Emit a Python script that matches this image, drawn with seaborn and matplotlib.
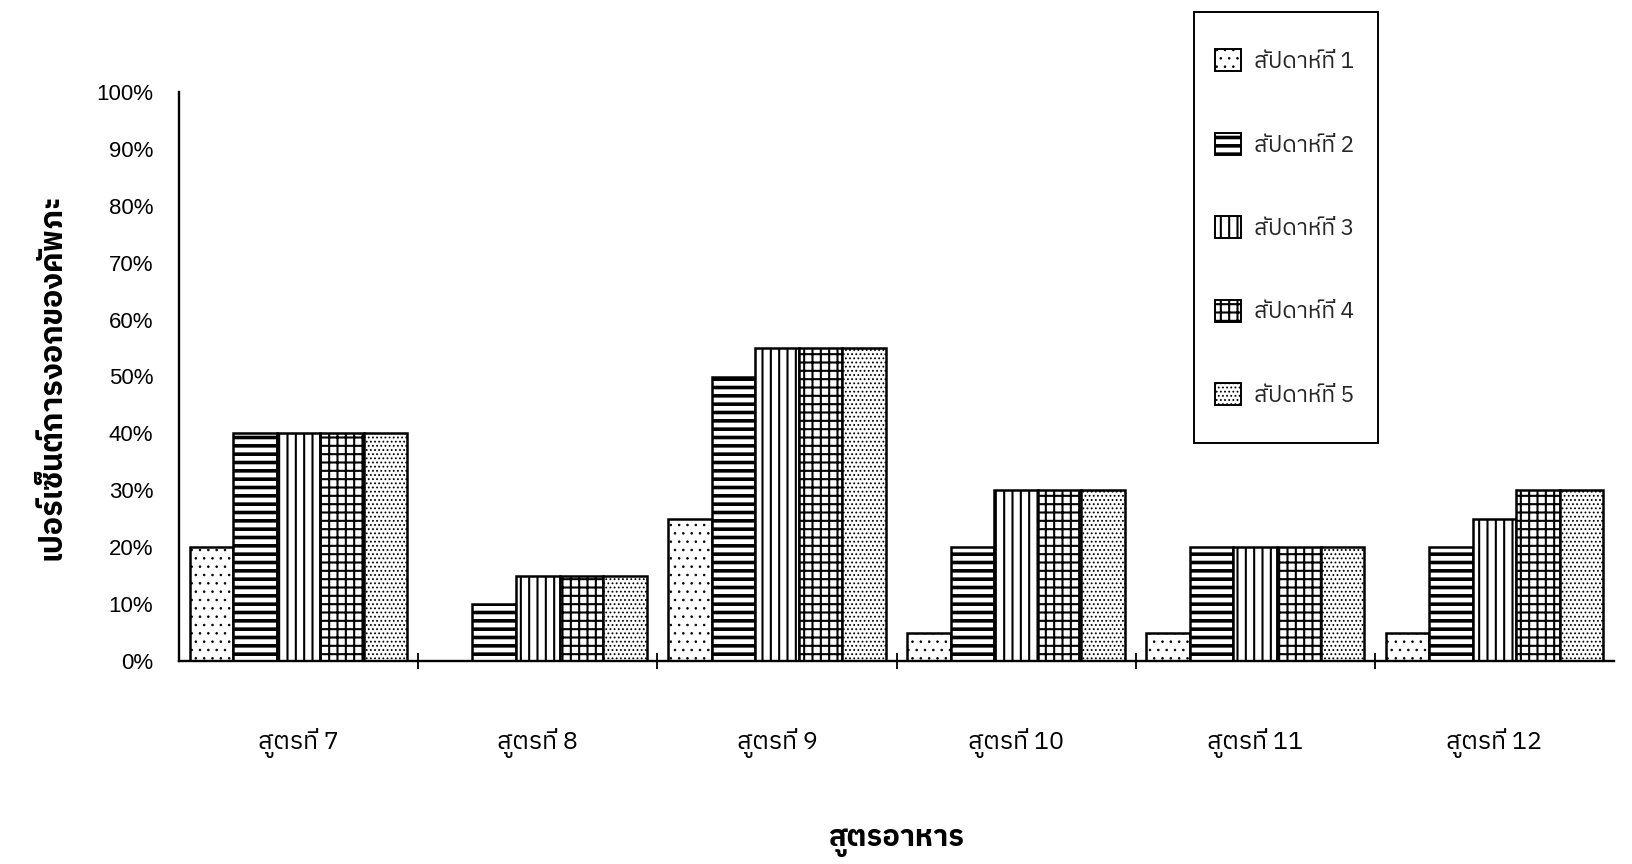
import matplotlib
matplotlib.use("Agg")
import matplotlib.pyplot as plt
import numpy as np
import pandas as pd
import seaborn as sns
from matplotlib import font_manager
from matplotlib.ft2font import FT2Font
from matplotlib.patches import Patch, Rectangle
from matplotlib.ticker import FixedLocator, MultipleLocator, PercentFormatter

# ---- data -----------------------------------------------------------------
formulas = ["สูตรที่ 7", "สูตรที่ 8", "สูตรที่ 9", "สูตรที่ 10", "สูตรที่ 11", "สูตรที่ 12"]
weeks = ["สัปดาห์ที่ 1", "สัปดาห์ที่ 2", "สัปดาห์ที่ 3", "สัปดาห์ที่ 4", "สัปดาห์ที่ 5"]
week1 = [20, 0, 25, 5, 5, 5]
week2 = [40, 10, 50, 20, 20, 20]
week3 = [40, 15, 55, 30, 20, 25]
week4 = [40, 15, 55, 30, 20, 30]
week5 = [40, 15, 55, 30, 20, 30]
y_label = "เปอร์เซ็นต์การงอกของคัพภะ"
x_label = "สูตรอาหาร"

series = [week1, week2, week3, week4, week5]
df = pd.DataFrame(
    [(f, w, v) for w, vals in zip(weeks, series) for f, v in zip(formulas, vals)],
    columns=["formula", "week", "pct"],
)

# ---- fonts: pick an installed face that covers Thai ------------------------
def thai_family():
    preferred = []
    others = []
    seen = set()
    for entry in font_manager.fontManager.ttflist:
        if entry.name in seen:
            continue
        try:
            cmap = FT2Font(entry.fname).get_charmap()
        except Exception:
            continue
        if 0x0E2A in cmap and 0x0E39 in cmap:
            seen.add(entry.name)
            if "Thai" in entry.name and "Looped" not in entry.name and "Serif" not in entry.name:
                preferred.append(entry.name)
            else:
                others.append(entry.name)
    found = preferred + others
    return found[0] if found else None

sns.set_theme(style="white")
thai = thai_family()
families = ([thai] if thai else []) + ["Liberation Sans", "DejaVu Sans"]
plt.rcParams["font.family"] = families
plt.rcParams["hatch.color"] = "black"

# ---- figure ---------------------------------------------------------------
W, H = 1632, 864
fig = plt.figure(figsize=(W / 100, H / 100), dpi=100)
fig.patch.set_facecolor("white")
ax = fig.add_axes([179 / W, 1 - 661 / H, (1614 - 179) / W, (661 - 92) / H])
ax.set_facecolor("white")

sns.barplot(
    data=df, x="formula", y="pct", hue="week",
    order=formulas, hue_order=weeks,
    palette=["white"] * len(weeks), saturation=1,
    width=0.91, gap=0, dodge=True, errorbar=None,
    edgecolor="black", linewidth=1.8, legend=False, ax=ax,
)

hatches = ["..", "--", "||", "++", "...."]
hatch_widths = [0.6, 2.6, 1.5, 1.5, 0.8]
for container, h, hw in zip(ax.containers, hatches, hatch_widths):
    for bar in container:
        bar.set_hatch(h)
        if hasattr(bar, "set_hatch_linewidth"):
            bar.set_hatch_linewidth(hw)

# ---- axes styling ---------------------------------------------------------
ax.set_xlim(-0.5, len(formulas) - 0.5)
ax.set_ylim(0, 100)
ax.yaxis.set_major_locator(MultipleLocator(10))
ax.yaxis.set_major_formatter(PercentFormatter(xmax=100, decimals=0))
for side in ("top", "right"):
    ax.spines[side].set_visible(False)
for side in ("left", "bottom"):
    ax.spines[side].set_color("black")
    ax.spines[side].set_linewidth(1.7)

ax.tick_params(axis="y", which="major", direction="inout", length=11, width=1.3,
               color="black", pad=13, labelsize=16, labelcolor="black")
for t in ax.get_yticklabels():
    t.set_fontfamily(["Liberation Sans", "DejaVu Sans"])
ax.xaxis.set_minor_locator(FixedLocator(np.arange(0.5, len(formulas) - 1, 1.0)))
ax.tick_params(axis="x", which="minor", direction="inout", length=11, width=1.3,
               color="black", bottom=True)
ax.tick_params(axis="x", which="major", length=0, pad=48, labelsize=18,
               labelcolor="black")
ax.grid(False)

ax.set_xlabel(x_label, fontsize=21, fontweight="bold", color="black")
ax.set_ylabel(y_label, fontsize=22, fontweight="bold", color="black")
ax.xaxis.set_label_coords(0.5, (661 - 828) / (661 - 92))
ax.yaxis.set_label_coords((52 - 179) / (1614 - 179), 0.5)
ax.yaxis.label.set_verticalalignment("center")

# ---- legend in a tall box at the top right ---------------------------------
handles = []
for h in hatches:
    handles.append(Patch(facecolor="white", edgecolor="black", hatch=h, linewidth=1.4))
leg = fig.legend(
    handles, weeks, loc="upper left",
    bbox_to_anchor=(1204 / W, 1 - 38 / H), bbox_transform=fig.transFigure,
    frameon=False, fontsize=16.5, borderpad=0, handlelength=1.1, handleheight=1.1,
    handletextpad=0.6, labelspacing=2.6,
)
for lh, hw in zip(leg.legend_handles, hatch_widths):
    if hasattr(lh, "set_hatch_linewidth"):
        lh.set_hatch_linewidth(hw)
fig.add_artist(Rectangle((1194 / W, 1 - 443 / H), (1378 - 1194) / W, (443 - 12) / H,
                         transform=fig.transFigure, fill=False,
                         edgecolor="black", linewidth=1.4))

fig.savefig("out.png", dpi=100, facecolor="white")
